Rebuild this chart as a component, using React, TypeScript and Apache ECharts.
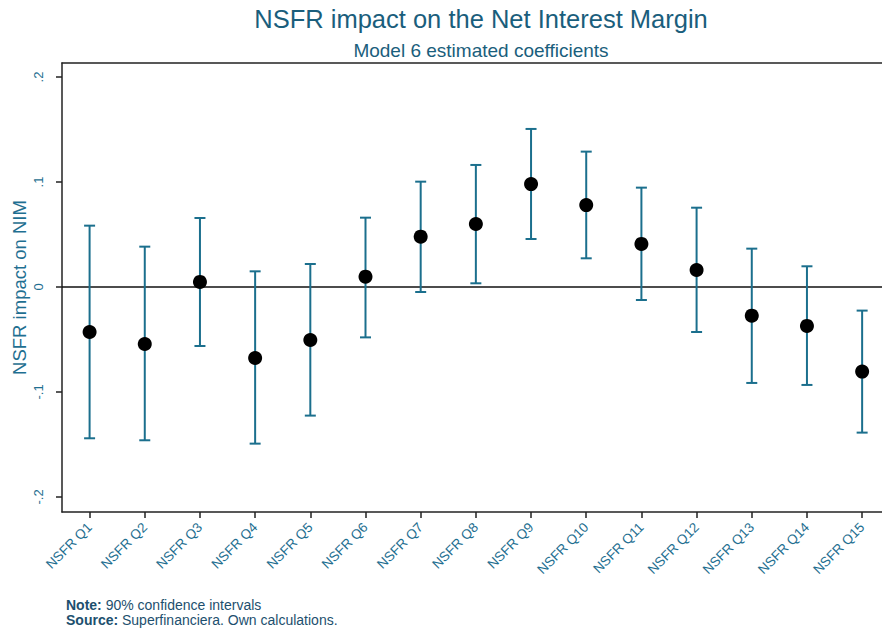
import React, { useEffect, useRef } from "react";
import * as echarts from "echarts";

const categories = [
  "NSFR Q1", "NSFR Q2", "NSFR Q3", "NSFR Q4", "NSFR Q5",
  "NSFR Q6", "NSFR Q7", "NSFR Q8", "NSFR Q9", "NSFR Q10",
  "NSFR Q11", "NSFR Q12", "NSFR Q13", "NSFR Q14", "NSFR Q15",
];
const coefficients = [
  -0.0429, -0.0543, 0.0048, -0.0676, -0.0505,
  0.0098, 0.0479, 0.06, 0.098, 0.078,
  0.041, 0.0162, -0.0273, -0.0371, -0.0806,
];
const upperCI = [
  0.0584, 0.0384, 0.0657, 0.0149, 0.0219,
  0.066, 0.1003, 0.1162, 0.1505, 0.1289,
  0.0946, 0.0755, 0.0365, 0.0197, -0.0225,
];
const lowerCI = [
  -0.1441, -0.146, -0.0562, -0.1492, -0.1225,
  -0.048, -0.0048, 0.0035, 0.0457, 0.0273,
  -0.0124, -0.0429, -0.0914, -0.0933, -0.1387,
];
const yTicks = [-0.2, -0.1, 0, 0.1, 0.2];
const xTicks = categories.map((_, i) => i + 1);

const barColor = "#1b6f8d";
const labelColor = "#1f6f91";
const titleColor = "#1a5e7c";
const noteColor = "#1d4f6e";
const FONT = "Liberation Sans, Arial, sans-serif";

export default function App() {
  const ref = useRef<HTMLDivElement>(null);

  useEffect(() => {
    document.body.style.margin = "0";
    if (!ref.current) return;
    const chart = echarts.init(ref.current, undefined, { renderer: "svg" });

    const ciData = categories.map((_, i) => [i + 1, lowerCI[i], upperCI[i]]);
    const dotData = categories.map((_, i) => [i + 1, coefficients[i]]);

    const axisLineStyle = { color: "#222", width: 1.5 };

    const option: any = {
      animation: false,
      backgroundColor: "#ffffff",
      textStyle: { fontFamily: FONT },
      title: [
        {
          text: "NSFR impact on the Net Interest Margin",
          left: 476,
          top: 1,
          textAlign: "center",
          textStyle: { color: titleColor, fontSize: 25.5, fontWeight: "normal", fontFamily: FONT },
        },
        {
          text: "Model 6 estimated coefficients",
          left: 476,
          top: 36,
          textAlign: "center",
          textStyle: { color: titleColor, fontSize: 19, fontWeight: "normal", fontFamily: FONT },
        },
      ],
      grid: {
        left: 62,
        top: 63,
        right: 0,
        height: 449,
        containLabel: false,
        outerBoundsMode: "none",
      },
      xAxis: [
        {
          type: "value",
          min: 0.5,
          max: 15.36,
          axisLine: { show: true, onZero: false, lineStyle: axisLineStyle },
          axisTick: { show: true, customValues: xTicks, length: 6, lineStyle: axisLineStyle },
          axisLabel: {
            customValues: xTicks,
            rotate: 45,
            margin: 13,
            color: labelColor,
            fontSize: 13.5,
            fontFamily: FONT,
            formatter: (v: number) => categories[Math.round(v) - 1] ?? "",
          },
          splitLine: { show: false },
        },
        {
          type: "value",
          position: "top",
          min: 0.5,
          max: 15.36,
          axisLine: { show: true, onZero: false, lineStyle: axisLineStyle },
          axisTick: { show: false },
          axisLabel: { show: false },
          splitLine: { show: false },
        },
      ],
      yAxis: {
        type: "value",
        min: -0.2143,
        max: 0.2133,
        axisLine: { show: true, onZero: false, lineStyle: axisLineStyle },
        axisTick: { show: true, length: 6, customValues: yTicks, lineStyle: axisLineStyle },
        axisLabel: {
          customValues: yTicks,
          rotate: 90,
          margin: 17,
          color: labelColor,
          fontSize: 13,
          fontFamily: FONT,
          formatter: (v: number) => {
            if (Math.abs(v) < 1e-9) return "0";
            return v.toFixed(1).replace("0.", ".");
          },
        },
        splitLine: { show: false },
        name: "NSFR impact on NIM",
        nameLocation: "middle",
        nameRotate: 90,
        nameGap: 33,
        nameMoveOverlap: false,
        nameTextStyle: { color: labelColor, fontSize: 18.5, fontFamily: FONT },
      },
      series: [
        {
          type: "custom",
          name: "CI",
          data: ciData,
          xAxisIndex: 0,
          z: 2,
          renderItem: (params: any, api: any) => {
            const idx = api.value(0);
            const lo = api.coord([idx, api.value(1)]);
            const hi = api.coord([idx, api.value(2)]);
            const half = 5.5;
            const style = { stroke: barColor, lineWidth: 2 };
            return {
              type: "group",
              children: [
                { type: "line", shape: { x1: lo[0], y1: lo[1], x2: hi[0], y2: hi[1] }, style },
                { type: "line", shape: { x1: hi[0] - half, y1: hi[1], x2: hi[0] + half, y2: hi[1] }, style },
                { type: "line", shape: { x1: lo[0] - half, y1: lo[1], x2: lo[0] + half, y2: lo[1] }, style },
              ],
            };
          },
        },
        {
          type: "scatter",
          name: "Coefficient",
          data: dotData,
          xAxisIndex: 0,
          symbol: "circle",
          symbolSize: 14,
          z: 5,
          itemStyle: { color: "#000000", opacity: 1 },
          markLine: {
            silent: true,
            symbol: ["none", "none"],
            label: { show: false },
            lineStyle: { color: "#111", width: 1.5, type: "solid" },
            data: [{ yAxis: 0 }],
            z: 1,
          },
        },
      ],
      graphic: [
        {
          type: "text",
          left: 66,
          top: 598,
          style: {
            text: "{b|Note:} 90% confidence intervals",
            fill: noteColor,
            font: `14px ${FONT}`,
            rich: { b: { fontWeight: "bold", fontSize: 14, fill: noteColor, fontFamily: FONT } },
          },
        },
        {
          type: "text",
          left: 66,
          top: 612.5,
          style: {
            text: "{b|Source:} Superfinanciera. Own calculations.",
            fill: noteColor,
            font: `14px ${FONT}`,
            rich: { b: { fontWeight: "bold", fontSize: 14, fill: noteColor, fontFamily: FONT } },
          },
        },
      ],
    };

    chart.setOption(option);
    return () => {
      chart.dispose();
    };
  }, []);

  return <div ref={ref} style={{ width: 882, height: 630 }} />;
}
